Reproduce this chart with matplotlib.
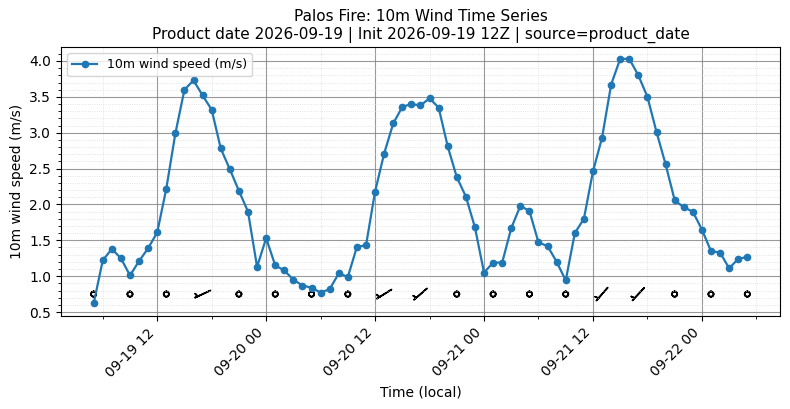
import numpy as np
import pandas as pd
import matplotlib
matplotlib.use("Agg")
import matplotlib.pyplot as plt
import matplotlib.dates as mdates
from matplotlib.ticker import MultipleLocator

# hourly 10m wind speed (m/s), 09-19 05:00 .. 09-22 05:00 local
times = pd.date_range("2026-09-19 05:00", "2026-09-22 05:00", freq="h")
speed = [
    0.62, 1.22, 1.38, 1.25, 1.01, 1.21, 1.39, 1.61, 2.22, 2.99, 3.60, 3.73,
    3.52, 3.32, 2.78, 2.49, 2.19, 1.90, 1.13, 1.53, 1.15, 1.08, 0.95, 0.87,
    0.84, 0.77, 0.82, 1.04, 0.99, 1.41, 1.43, 2.18, 2.71, 3.13, 3.36, 3.40,
    3.38, 3.48, 3.35, 2.81, 2.38, 2.11, 1.68, 1.05, 1.19, 1.19, 1.67, 1.98,
    1.91, 1.47, 1.42, 1.20, 0.94, 1.60, 1.80, 2.46, 2.93, 3.67, 4.03, 4.03,
    3.80, 3.50, 3.01, 2.56, 2.06, 1.96, 1.90, 1.65, 1.35, 1.33, 1.11, 1.24,
    1.27,
]
# wind direction (deg, from) at every 4th hour for the barbs
barb_dir = [240, 240, 240, 245, 240, 240, 240, 240, 238, 229,
            240, 240, 240, 240, 221, 223, 240, 240, 240]
barb_step = 4
barb_y = 0.75

title = ("Palos Fire: 10m Wind Time Series\n"
         "Product date 2026-09-19 | Init 2026-09-19 12Z | source=product_date")

fig = plt.figure(figsize=(7.9, 4.09), dpi=100)
ax = fig.add_axes([0.0772, 0.2274, 0.9101, 0.6577])

ax.plot(times, speed, marker="o", markersize=4.5, lw=1.6, color="tab:blue",
        label="10m wind speed (m/s)")

bt = times[::barb_step]
bs = np.array(speed[::barb_step])
rad = np.deg2rad(barb_dir)
u = -bs * np.sin(rad)
v = -bs * np.cos(rad)
ax.barbs(mdates.date2num(bt), np.full(len(bt), barb_y), u, v,
         length=5, pivot="middle", color="black", linewidth=1.2)

ax.set_ylim(0.445, 4.195)
ax.yaxis.set_major_locator(MultipleLocator(0.5))
ax.yaxis.set_minor_locator(MultipleLocator(0.1))
ax.xaxis.set_major_locator(mdates.HourLocator(byhour=[0, 12]))
ax.xaxis.set_minor_locator(mdates.HourLocator(byhour=[6, 18]))
ax.xaxis.set_major_formatter(mdates.DateFormatter("%m-%d %H"))
plt.setp(ax.get_xticklabels(), rotation=45, ha="right")

ax.grid(which="major", color="gray", lw=0.8, alpha=0.8)
ax.grid(which="minor", color="lightgray", lw=0.6, ls=":", alpha=0.8)

ax.set_xlabel("Time (local)")
ax.set_ylabel("10m wind speed (m/s)")
ax.set_title(title, fontsize=11)
ax.legend(loc="upper left", fontsize=9)

fig.savefig("out.png", dpi=100)
